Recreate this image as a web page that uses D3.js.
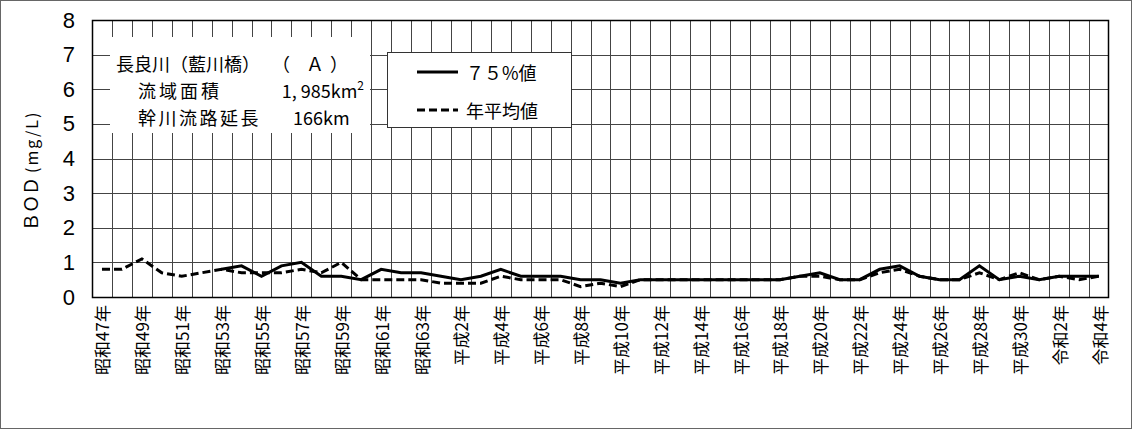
<!DOCTYPE html>
<html><head><meta charset="utf-8">
<script src="https://cdn.jsdelivr.net/npm/d3@7"></script>
<style>
body{margin:0;background:#fff;}
svg{display:block;}
text{font-family:"Noto Sans CJK JP","Noto Sans",sans-serif;fill:#000;text-spacing-trim:space-all;}
</style></head><body>
<svg id="c" width="1132" height="429"></svg>
<script>
const years = ["昭和47年","昭和48年","昭和49年","昭和50年","昭和51年","昭和52年","昭和53年","昭和54年","昭和55年","昭和56年",
"昭和57年","昭和58年","昭和59年","昭和60年","昭和61年","昭和62年","昭和63年","平成元年","平成2年","平成3年",
"平成4年","平成5年","平成6年","平成7年","平成8年","平成9年","平成10年","平成11年","平成12年","平成13年",
"平成14年","平成15年","平成16年","平成17年","平成18年","平成19年","平成20年","平成21年","平成22年","平成23年",
"平成24年","平成25年","平成26年","平成27年","平成28年","平成29年","平成30年","令和元年","令和2年","令和3年","令和4年"];
const val75 = [null,null,null,null,null,null,0.8,0.9,0.6,0.9,
1.0,0.6,0.6,0.5,0.8,0.7,0.7,0.6,0.5,0.6,
0.8,0.6,0.6,0.6,0.5,0.5,0.4,0.5,0.5,0.5,
0.5,0.5,0.5,0.5,0.5,0.6,0.7,0.5,0.5,0.8,
0.9,0.6,0.5,0.5,0.9,0.5,0.6,0.5,0.6,0.6,0.6];
const valMean = [0.8,0.8,1.1,0.7,0.6,0.7,0.8,0.7,0.7,0.7,
0.8,0.7,1.0,0.5,0.5,0.5,0.5,0.4,0.4,0.4,
0.6,0.5,0.5,0.5,0.3,0.4,0.3,0.5,0.5,0.5,
0.5,0.5,0.5,0.5,0.5,0.6,0.6,0.5,0.5,0.7,
0.8,0.6,0.5,0.5,0.7,0.5,0.7,0.5,0.6,0.5,0.6];
const yTicks = [0,1,2,3,4,5,6,7,8];
const seriesNames = ["７５%値","年平均値"];

const svg = d3.select("#c");
const L=92,R=1109,T=20,B=297;
const x = d3.scaleBand().domain(years).range([L,R]).padding(0);
const y = d3.scaleLinear().domain([0,8]).range([B,T]);

// outer frame
svg.append("rect").attr("x",0.5).attr("y",0.5).attr("width",1131).attr("height",428)
  .attr("fill","none").attr("stroke","#666").attr("stroke-width",1);

// grid
const g = svg.append("g");
g.selectAll("line.v").data(years.slice(1)).join("line")
  .attr("x1",d=>Math.round(x(d))+0.5).attr("x2",d=>Math.round(x(d))+0.5)
  .attr("y1",T).attr("y2",B).attr("stroke","#444").attr("stroke-width",1);
g.selectAll("line.h").data(yTicks.slice(1,-1)).join("line")
  .attr("x1",L).attr("x2",R).attr("y1",d=>Math.round(y(d))+0.5).attr("y2",d=>Math.round(y(d))+0.5)
  .attr("stroke","#444").attr("stroke-width",1);

// white title box
svg.append("rect").attr("x",110).attr("y",37).attr("width",260).attr("height",96).attr("fill","#fff");
// legend box
svg.append("rect").attr("x",387.5).attr("y",52.5).attr("width",184).attr("height",75)
  .attr("fill","#fff").attr("stroke","#333").attr("stroke-width",1);

// plot frame
svg.append("rect").attr("x",L+0.5).attr("y",T+0.5).attr("width",R-L-1).attr("height",B-T)
  .attr("fill","none").attr("stroke","#000").attr("stroke-width",1.5);

// y axis labels
svg.append("g").selectAll("text").data(yTicks).join("text")
  .attr("x",75).attr("y",d=>y(d)).attr("text-anchor","end").attr("dominant-baseline","central")
  .style("font-family","'Liberation Sans Narrow','Liberation Sans',sans-serif").style("font-size","22px")
  .text(d=>d);

// y axis title
const yt = svg.append("text").attr("transform","translate(38,231) rotate(-90)").attr("text-anchor","start");
yt.append("tspan").style("font-size","18px").text("ＢＯＤ");
yt.append("tspan").style("font-size","16px").style("letter-spacing","2px").attr("dx",4).text("(mg/L)");

// x labels
svg.append("g").selectAll("text").data(years.filter((d,i)=>i%2===0)).join("text")
  .attr("transform",d=>`translate(${x(d)+x.bandwidth()/2},305) rotate(-90)`)
  .attr("text-anchor","end").attr("dominant-baseline","central")
  .style("font-size","17px").text(d=>d);

// lines
const line = d3.line().defined(d=>d.v!=null).x(d=>x(d.k)+x.bandwidth()/2).y(d=>y(d.v));
svg.append("path").datum(years.map((k,i)=>({k,v:valMean[i]})))
  .attr("d",line).attr("fill","none").attr("stroke","#000").attr("stroke-width",3)
  .attr("stroke-dasharray","8,4");
svg.append("path").datum(years.map((k,i)=>({k,v:val75[i]})))
  .attr("d",line).attr("fill","none").attr("stroke","#000").attr("stroke-width",3);

// title text
const fs = "18px";
const t1 = svg.append("text").attr("y",63).attr("dominant-baseline","central").style("font-size",fs);
t1.append("tspan").attr("x",116).text("長良川");
t1.append("tspan").attr("x",170).text("（藍川橋）");
t1.append("tspan").attr("x",272).text("（");
t1.append("tspan").attr("x",306).text("Ａ");
t1.append("tspan").attr("x",330).text("）");
svg.append("text").attr("x",138).attr("y",90).attr("dominant-baseline","central").style("font-size",fs).style("letter-spacing","3px").text("流域面積");
const t2 = svg.append("text").attr("x",364).attr("y",90).attr("dominant-baseline","central").attr("text-anchor","end").style("font-size",fs);
t2.append("tspan").text("1, 985km");
t2.append("tspan").style("font-size","12px").attr("dy",-6).text("2");
svg.append("text").attr("x",138).attr("y",117).attr("dominant-baseline","central").style("font-size",fs).style("letter-spacing","2.5px").text("幹川流路延長");
svg.append("text").attr("x",293).attr("y",117).attr("dominant-baseline","central").style("font-size",fs).text("166km");

// legend
svg.append("line").attr("x1",417).attr("x2",458).attr("y1",72).attr("y2",72).attr("stroke","#000").attr("stroke-width",3);
svg.append("line").attr("x1",417).attr("x2",458).attr("y1",110).attr("y2",110).attr("stroke","#000").attr("stroke-width",3).attr("stroke-dasharray","8,4");
svg.append("text").attr("x",466).attr("y",72).attr("dominant-baseline","central").style("font-size",fs).text(seriesNames[0]);
svg.append("text").attr("x",466).attr("y",110).attr("dominant-baseline","central").style("font-size",fs).text(seriesNames[1]);
</script></body></html>
